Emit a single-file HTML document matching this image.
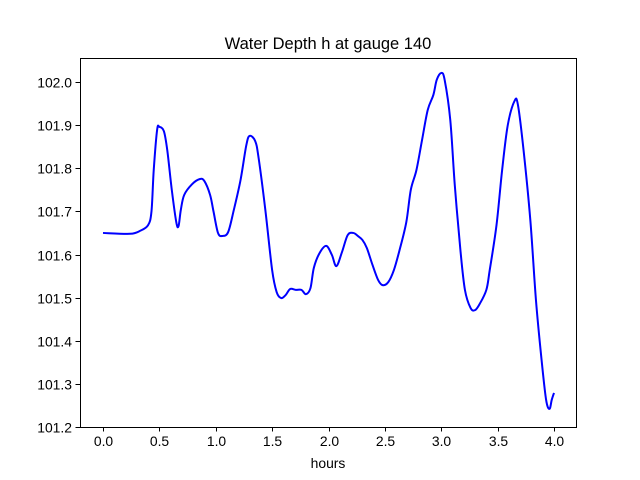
<!DOCTYPE html>
<html><head><meta charset="utf-8"><style>
body{margin:0;background:#fff}
svg{display:block;font-family:"Liberation Sans","DejaVu Sans",sans-serif}
</style></head><body>
<svg id="chart" width="640" height="480">
<rect width="640" height="480" fill="#fff"/>
<text x="328" y="49" text-anchor="middle" font-size="16.5">Water Depth h at gauge 140</text>
<g id="axes"></g>
<path id="line" fill="none" stroke="#0000ff" stroke-width="2"/>
<rect x="80.5" y="58.5" width="496" height="369" fill="none" stroke="#000" stroke-width="1"/>
<text x="328" y="468" text-anchor="middle" font-size="13.9">hours</text>
</svg>
<script>
const hours=[0,0.24,0.33,0.40,0.43,0.45,0.48,0.50,0.54,0.57,0.61,0.65,0.67,0.69,0.72,0.79,0.86,0.90,0.95,0.98,1.02,1.06,1.11,1.16,1.22,1.27,1.30,1.35,1.38,1.44,1.50,1.54,1.58,1.62,1.66,1.71,1.76,1.80,1.84,1.87,1.92,1.98,2.03,2.07,2.12,2.17,2.22,2.26,2.30,2.34,2.39,2.44,2.48,2.53,2.58,2.63,2.69,2.73,2.78,2.83,2.88,2.93,2.96,3.00,3.03,3.08,3.12,3.17,3.21,3.26,3.30,3.34,3.40,3.43,3.49,3.54,3.59,3.65,3.68,3.73,3.79,3.84,3.89,3.93,3.96,3.98,4.00];
const depth=[101.650,101.648,101.655,101.668,101.70,101.796,101.889,101.896,101.886,101.842,101.75,101.675,101.666,101.703,101.738,101.763,101.775,101.770,101.738,101.70,101.650,101.643,101.652,101.703,101.773,101.852,101.875,101.863,101.824,101.703,101.564,101.513,101.499,101.506,101.52,101.518,101.518,101.508,101.522,101.569,101.603,101.62,101.599,101.573,101.606,101.645,101.650,101.643,101.634,101.615,101.576,101.541,101.529,101.536,101.564,101.61,101.675,101.75,101.796,101.866,101.935,101.97,102.005,102.021,102.005,101.912,101.761,101.61,101.518,101.476,101.471,101.485,101.518,101.564,101.668,101.796,101.90,101.956,101.947,101.842,101.68,101.494,101.355,101.263,101.242,101.263,101.279];
const xTicks=[0,0.5,1,1.5,2,2.5,3,3.5,4];
const yTicks=[101.2,101.3,101.4,101.5,101.6,101.7,101.8,101.9,102.0];
const xs=v=>103+v*112.75;
const ys=v=>427-(v-101.2)*431.25;
const NS="http://www.w3.org/2000/svg";
const ax=document.getElementById('axes');
function mk(t,a){const e=document.createElementNS(NS,t);for(const k in a)e.setAttribute(k,a[k]);return e;}
xTicks.forEach(t=>{
  const x=Math.round(xs(t))+0.5;
  const l=mk('line',{x1:x,x2:x,y1:427,y2:431.5,stroke:'#000'});
  
  
  ax.appendChild(l);
  const tx=mk('text',{x:x,y:446,'text-anchor':'middle','font-size':'13.9'});
  
  
  tx.textContent=t.toFixed(1);ax.appendChild(tx);
});
yTicks.forEach(t=>{
  const y=Math.round(ys(t))+0.5;
  const l=mk('line',{x1:75.5,x2:80,y1:y,y2:y,stroke:'#000'});
  
  
  ax.appendChild(l);
  const tx=mk('text',{x:72,y:y+5,'text-anchor':'end','font-size':'13.9'});
  
  
  tx.textContent=t.toFixed(1);ax.appendChild(tx);
});
const P=hours.map((h,i)=>[xs(h),ys(depth[i])]);
let d='M'+P[0][0]+','+P[0][1];
for(let i=0;i<P.length-1;i++){
  const p0=P[Math.max(0,i-1)],p1=P[i],p2=P[i+1],p3=P[Math.min(P.length-1,i+2)];
  const c1=[p1[0]+(p2[0]-p0[0])/6,p1[1]+(p2[1]-p0[1])/6];
  const c2=[p2[0]-(p3[0]-p1[0])/6,p2[1]-(p3[1]-p1[1])/6];
  d+=' C'+c1+' '+c2+' '+p2;
}
document.getElementById('line').setAttribute('d',d);
</script>
</body></html>
